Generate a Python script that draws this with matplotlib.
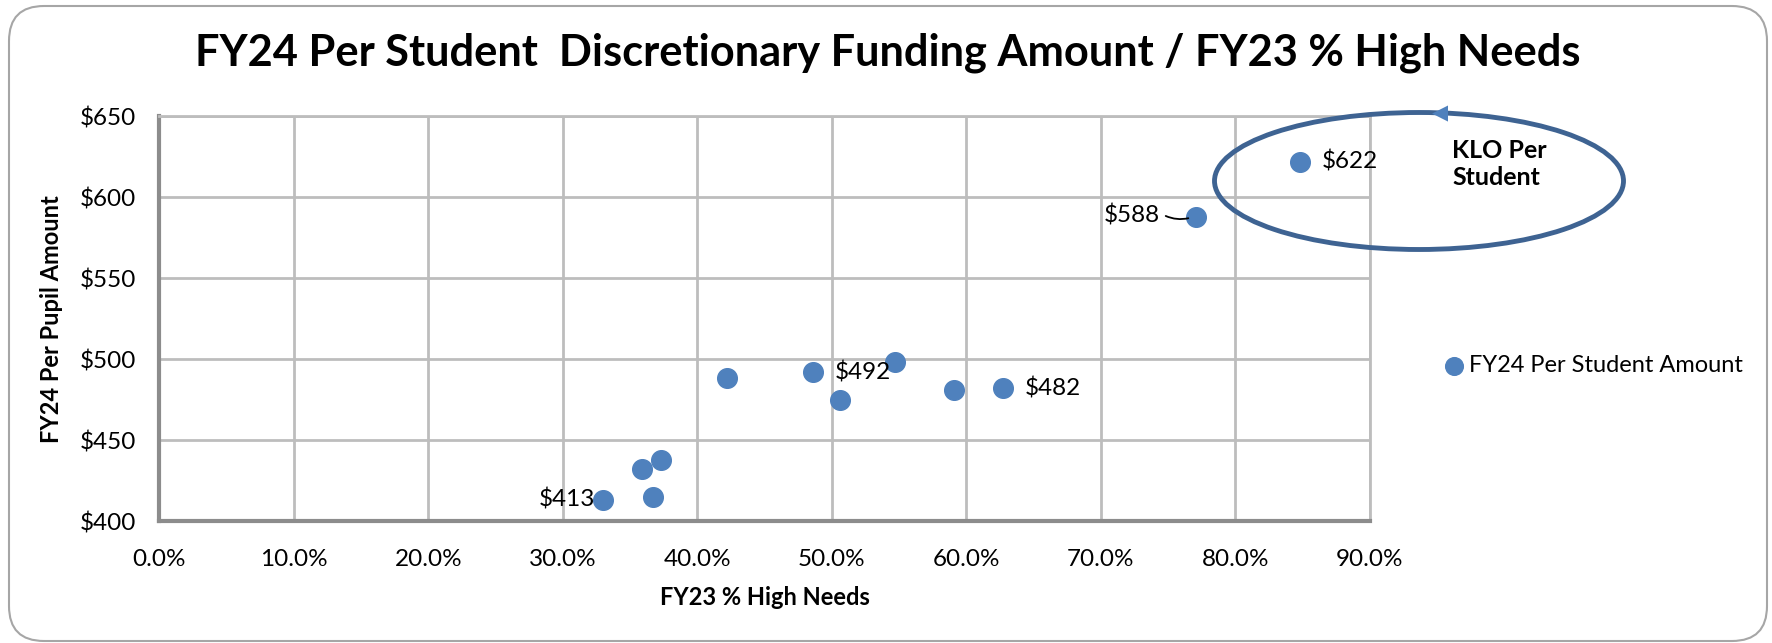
import matplotlib
matplotlib.use("Agg")
import matplotlib.pyplot as plt
from matplotlib.patches import Ellipse, FancyBboxPatch
from matplotlib.ticker import FuncFormatter, MultipleLocator

plt.rcParams['font.family'] = ['Lato', 'DejaVu Sans']

# FY23 % high needs (fraction) and FY24 per student amount ($)
high_needs = [0.848, 0.771, 0.422, 0.486, 0.506, 0.547, 0.591, 0.627, 0.373, 0.359, 0.367, 0.330]
per_student = [622, 588, 488.5, 492, 474.5, 498, 481, 482, 437.5, 432, 415, 413]

# which points carry a value label, and where it sits (offset in points)
label_idx = [0, 1, 3, 7, 11]
label_off = [(16, 0), (-67, 1), (16, 0), (16, 0), (-46, 0)]

series_name = 'FY24 Per Student Amount'
blue = '#4F81BD'

fig = plt.figure(figsize=(17.72, 6.43), dpi=100)

# rounded chart frame
frame = FancyBboxPatch((0.09, 0.02), 17.58, 6.35, boxstyle='round,pad=0,rounding_size=0.35',
                       transform=fig.dpi_scale_trans, fill=False, edgecolor='#a6a6a6', linewidth=1.5)
fig.patches.append(frame)

ax = fig.add_axes([0.0898, 0.1897, 0.6833, 0.6293])
ax.scatter(high_needs, per_student, s=200, color=blue, zorder=3, label=series_name)

ax.set_xlim(0, 0.9)
ax.set_ylim(400, 650)
ax.xaxis.set_major_locator(MultipleLocator(0.1))
ax.yaxis.set_major_locator(MultipleLocator(50))
ax.xaxis.set_major_formatter(FuncFormatter(lambda v, p: f'{v*100:.1f}%'))
ax.yaxis.set_major_formatter(FuncFormatter(lambda v, p: f'${v:.0f}'))
ax.grid(True, color='#bdbdbd', linewidth=2)
ax.set_axisbelow(True)
for s in ['top', 'right']:
    ax.spines[s].set_color('#bdbdbd')
    ax.spines[s].set_linewidth(2)
for s in ['left', 'bottom']:
    ax.spines[s].set_color('#8c8c8c')
    ax.spines[s].set_linewidth(3)
ax.tick_params(length=0, labelsize=17.5)
ax.tick_params(axis='y', pad=16.5)
ax.tick_params(axis='x', pad=20)

for i, off in zip(label_idx, label_off):
    ax.annotate(f'${per_student[i]:.0f}', (high_needs[i], per_student[i]),
                xytext=off, textcoords='offset points', fontsize=17.5, va='center')
# leader line for $588
ax.annotate('', (high_needs[1] - 0.004, per_student[1] - 0.5), xytext=(-20, 2), textcoords='offset points',
            arrowprops=dict(arrowstyle='-', color='black', lw=1.3, connectionstyle='arc3,rad=0.2'))

ax.set_xlabel('FY23 % High Needs', fontsize=17, fontweight='bold', labelpad=12)
ax.set_ylabel('FY24 Per Pupil Amount', fontsize=17, fontweight='bold', labelpad=12)

fig.text(0.501, 0.918, 'FY24 Per Student  Discretionary Funding Amount / FY23 % High Needs',
         ha='center', va='center', fontsize=31.2, fontweight='bold')

# callout ellipse around the KLO points
ell = Ellipse((14.19, 4.62), 4.09, 1.37, transform=fig.dpi_scale_trans, fill=False,
              edgecolor='#3E6392', linewidth=3.5)
fig.patches.append(ell)
fig.text(14.40 / 17.72, 5.30 / 6.43, '\u25C0', color='#4F81BD', fontsize=15, ha='center', va='center',
         family=['DejaVu Sans'])
fig.text(1452 / 1772, 1 - 164 / 643, 'KLO Per\nStudent', fontsize=18, fontweight='bold',
         ha='left', va='center', linespacing=1.25)

leg = ax.legend(loc='center left', bbox_to_anchor=(1.032, 0.385), frameon=False, fontsize=17,
                handletextpad=-0.35, markerscale=0.9, scatterpoints=1)

fig.savefig('out.png', dpi=100)
